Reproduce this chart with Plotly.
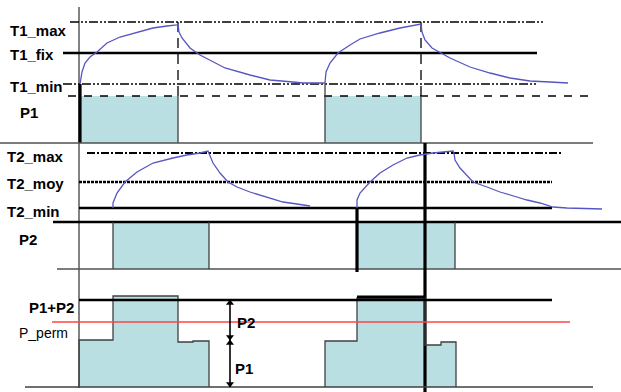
import plotly.graph_objects as go

W, H = 621, 392

# ---------------- data (schematic: x = time, y = level, screen-like scale) ----------------
# T1 section levels
T1_MAX, T1_FIX, T1_MIN = 22, 53, 84
P1_TOP, P1_BASE = 96, 143
# P1 on-intervals
p1_start = [80, 325]
p1_end = [178, 421]
# T1 temperature curve
t1_x = [80, 81, 82, 85, 90, 97, 107, 120, 137, 153, 167, 177, 178,
        179, 182, 190, 200, 225, 250, 270, 293, 303, 325,
        326, 330, 338, 350, 360, 380, 400, 421,
        422, 425, 432, 441, 450, 470, 490, 510, 530, 550, 568]
t1_y = [84, 79, 72, 63, 57, 52, 43, 37, 32, 28, 26, 25, 24,
        32, 38, 48, 55, 68, 75, 80, 82, 83, 83,
        72, 63, 53, 45, 39, 33, 28, 24,
        32, 40, 48, 53, 58, 67, 73, 78, 81, 82, 83]

# T2 section levels
T2_MAX, T2_MOY, T2_MIN = 153, 182, 208
P2_TOP, P2_BASE = 222, 269
p2_start = [113, 357]
p2_end = [209, 455]
t2a_x = [113, 113, 117, 125, 137, 153, 173, 187, 200, 208,
         213, 220, 228, 237, 250, 267, 283, 297, 310]
t2a_y = [208, 203, 193, 182, 172, 163, 158, 155, 153, 151,
         163, 173, 182, 187, 192, 197, 202, 204, 206]
t2b_x = [357, 357, 360, 370, 380, 393, 407, 420, 433, 453,
         454, 455, 460, 467, 473, 487, 500, 517, 527, 540, 553, 567, 602]
t2b_y = [208, 200, 193, 182, 173, 165, 158, 155, 153, 151,
         153, 160, 168, 175, 182, 187, 192, 197, 200, 203, 207, 208, 209]

# Sum section
SUM_LEVEL, P_PERM, SUM_BASE = 300, 322, 387
sum1_x = [79, 79, 113, 113, 178, 178, 193, 193, 209, 209]
sum1_y = [387, 340, 340, 296, 296, 342, 342, 341, 341, 387]
sum2_x = [325, 325, 357, 357, 425, 425, 441, 441, 456, 456]
sum2_y = [387, 341, 341, 298, 298, 345, 345, 342, 342, 387]
dim_x = 230
dim_levels = [300, 340, 387]

labels = ["T1_max", "T1_fix", "T1_min", "P1", "T2_max", "T2_moy", "T2_min", "P2", "P1+P2", "P_perm"]

# ---------------- styles ----------------
FILL = "#b9dfe3"
EDGE = "#404040"
CURVE = "#5656c4"
DDOT = "9px,2px,2px,2px,2px,2px"
LONGDASH = "8px,8px"
VDASH = "10px,6px"
T2DASH = "8px,2px,2px,2px"
DOTS = "3px,1px"
FONT = "Liberation Sans, Arial, sans-serif"

fig = go.Figure()


def line(x, y, color="black", width=1.5, dash="solid"):
    fig.add_trace(go.Scatter(x=x, y=y, mode="lines",
                             line=dict(color=color, width=width, dash=dash),
                             hoverinfo="skip", showlegend=False))


def poly(x, y, color=FILL):
    fig.add_trace(go.Scatter(x=x, y=y, mode="lines", fill="toself", fillcolor=color,
                             line=dict(width=0, color=color),
                             hoverinfo="skip", showlegend=False))


# fills
for s, e in zip(p1_start, p1_end):
    poly([s, e, e, s, s], [P1_TOP, P1_TOP, P1_BASE, P1_BASE, P1_TOP])
for s, e in zip(p2_start, p2_end):
    poly([s, e, e, s, s], [P2_TOP, P2_TOP, P2_BASE, P2_BASE, P2_TOP])
poly(sum1_x, sum1_y)
poly(sum2_x, sum2_y)

# main vertical axis
line([79, 79], [7, 388], color="#303030", width=1.2)

# ---- T1 section ----
line([70, 545], [T1_MAX, T1_MAX], width=1.3, dash=DDOT)
line([63, 537], [T1_FIX, T1_FIX], width=2.6)
line([63, 537], [T1_MIN, T1_MIN], width=1.3, dash=DDOT)
line([68, 590], [P1_TOP, P1_TOP], width=1.3, dash=LONGDASH)
for e in p1_end:
    line([e, e], [T1_MAX, P1_TOP], width=1.3, dash=VDASH)
    line([e, e], [P1_TOP, P1_BASE], color=EDGE, width=1.3)
line([p1_start[0], p1_start[0]], [T1_MIN, P1_BASE], width=3.2)
line([p1_start[1], p1_start[1]], [T1_MIN, P1_BASE], color=EDGE, width=1.3)
line([0, 593], [P1_BASE, P1_BASE], color="#505050", width=1.5)
line(t1_x, t1_y, color=CURVE, width=1.3)

# ---- T2 section ----
line([87, 561], [T2_MAX, T2_MAX], width=1.8, dash=T2DASH)
line([79, 552], [T2_MOY, T2_MOY], width=2.4, dash=DOTS)
line([79, 552], [T2_MIN, T2_MIN], width=2.6)
line([53, W], [P2_TOP, P2_TOP], width=2.4)
line([57, W], [P2_BASE, P2_BASE], color="#505050", width=1.5)
line([p2_start[0], p2_start[0]], [P2_TOP, P2_BASE], color=EDGE, width=1.3)
for e in p2_end:
    line([e, e], [P2_TOP, P2_BASE], color=EDGE, width=1.3)
line([p2_start[1], p2_start[1]], [T2_MIN, 272], width=3.2)
line([425, 425], [P1_BASE, H], width=3.2)
line(t2a_x, t2a_y, color=CURVE, width=1.3)
line(t2b_x, t2b_y, color=CURVE, width=1.3)

# ---- sum section ----
line(sum1_x, sum1_y, color=EDGE, width=1.3)
line(sum2_x, sum2_y, color=EDGE, width=1.3)
line([79, 552], [SUM_LEVEL, SUM_LEVEL], width=2.6)
line([357, 425], [297, 297], width=3.2)
line([52, 570], [P_PERM, P_PERM], color="#ff4545", width=1.5)
line([25, 593], [SUM_BASE, SUM_BASE], color=EDGE, width=1.5)

# dimension arrows
line([dim_x, dim_x], [dim_levels[0], dim_levels[2]], width=1.6)
fig.add_trace(go.Scatter(
    x=[dim_x] * 4,
    y=[dim_levels[0] + 3, dim_levels[1] - 3, dim_levels[1] + 3, dim_levels[2] - 3],
    mode="markers",
    marker=dict(symbol=["triangle-up", "triangle-down", "triangle-up", "triangle-down"],
                size=7, color="black"),
    hoverinfo="skip", showlegend=False))

# ---- labels ----
label_x = [8, 8, 8, 18, 5, 5, 5, 17, 27, 17]
label_y = [30, 54, 86, 112, 156, 183, 211, 239, 307, 333]
annotations = []
for t, lx, ly in zip(labels, label_x, label_y):
    bold = t != "P_perm"
    annotations.append(dict(
        x=lx, y=ly, xref="x", yref="y", xanchor="left", yanchor="middle",
        text=f"<b>{t}</b>" if bold else t, showarrow=False,
        font=dict(family=FONT, size=15 if bold else 14, color="black")))
annotations.append(dict(x=235, y=322, xref="x", yref="y", xanchor="left", yanchor="middle",
                        text="<b>P2</b>", showarrow=False,
                        font=dict(family=FONT, size=15, color="black")))
annotations.append(dict(x=233, y=368, xref="x", yref="y", xanchor="left", yanchor="middle",
                        text="<b>P1</b>", showarrow=False,
                        font=dict(family=FONT, size=15, color="black")))

fig.update_layout(
    width=W, height=H,
    margin=dict(l=0, r=0, t=0, b=0),
    paper_bgcolor="white", plot_bgcolor="white",
    xaxis=dict(range=[0, W], visible=False, fixedrange=True),
    yaxis=dict(range=[H, 0], visible=False, fixedrange=True),
    annotations=annotations,
    showlegend=False,
)

fig.write_html("out.html", config={"displayModeBar": False},
               post_script="document.body.style.margin='0';document.body.style.overflow='hidden';")
